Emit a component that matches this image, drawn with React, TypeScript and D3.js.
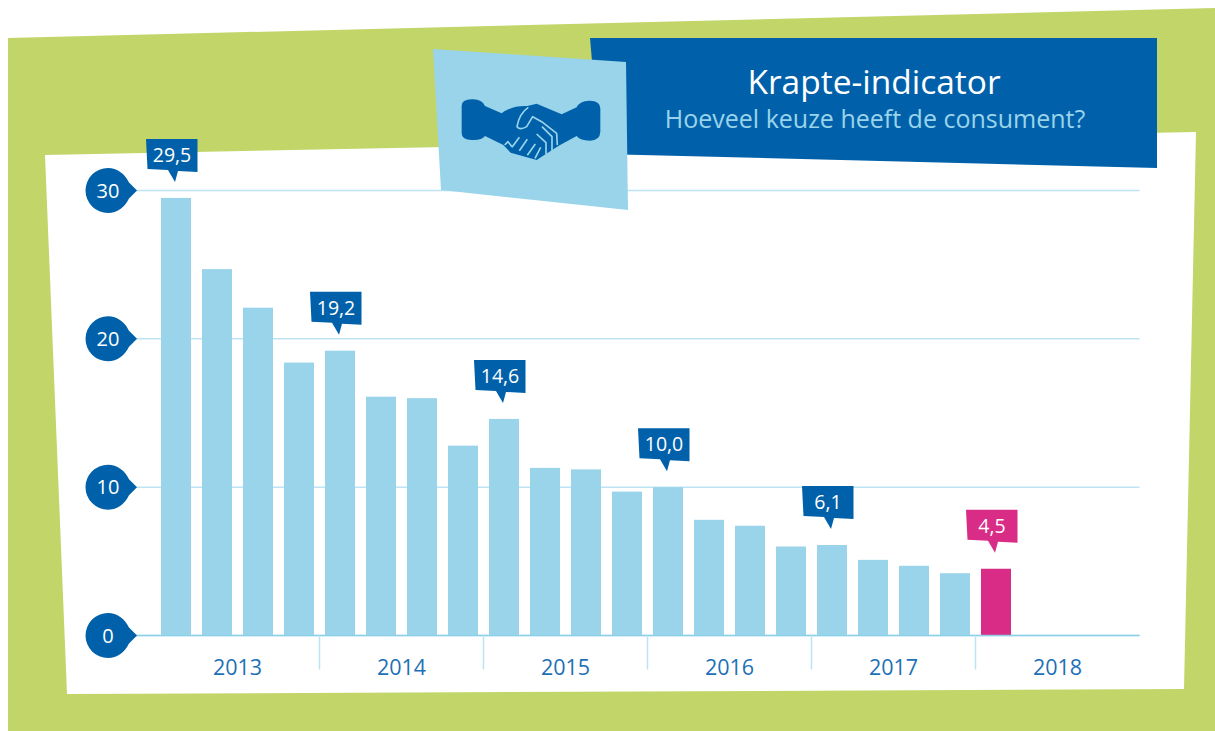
import React, { useEffect, useRef } from 'react';
import * as d3 from 'd3';

const years = ['2013', '2014', '2015', '2016', '2017', '2018'];
const quarters = [
  '13-1', '13-2', '13-3', '13-4',
  '14-1', '14-2', '14-3', '14-4',
  '15-1', '15-2', '15-3', '15-4',
  '16-1', '16-2', '16-3', '16-4',
  '17-1', '17-2', '17-3', '17-4',
  '18-1',
];
const values = [
  29.5, 24.7, 22.1, 18.4,
  19.2, 16.1, 16.0, 12.8,
  14.6, 11.3, 11.2, 9.7,
  10.0, 7.8, 7.4, 6.0,
  6.1, 5.1, 4.7, 4.2,
  4.5,
];
const yTicks = [0, 10, 20, 30];
const labelled = ['13-1', '14-1', '15-1', '16-1', '17-1', '18-1'];

const GREEN = '#c1d568';
const BLUE = '#0061aa';
const LIGHT = '#9ad4ea';
const GRID = '#bde4f4';
const PINK = '#d82c86';
const FONT = '"Open Sans", sans-serif';

const App = () => {
  const ref = useRef<SVGSVGElement>(null);

  useEffect(() => {
    const svg = d3.select(ref.current);
    svg.selectAll('*').remove();

    const poly = (pts: number[][], fill: string) =>
      svg.append('polygon').attr('points', pts.join(' ')).attr('fill', fill);

    // Background sheets
    poly([[8, 38], [1215, 8], [1215, 731], [8, 731]], GREEN);
    poly([[45, 155], [1196, 132], [1184, 689], [67, 694]], '#fff');
    poly([[590, 38], [1157, 38], [1157, 168], [600, 154]], BLUE);

    const x = d3.scaleBand()
      .domain(quarters)
      .range([155.5, 1016.5])
      .paddingInner(11 / 41)
      .paddingOuter(5.5 / 41);
    const xYear = d3.scaleBand().domain(years).range([155.5, 1139.5]);
    const y = d3.scaleLinear().domain([0, 30]).range([635.5, 190.5]);

    // Gridlines
    svg.append('g')
      .selectAll('line')
      .data(yTicks)
      .enter().append('line')
      .attr('x1', 130)
      .attr('x2', 1139.5)
      .attr('y1', d => y(d))
      .attr('y2', d => y(d))
      .attr('stroke', GRID)
      .attr('stroke-width', 1.5);

    // Icon sheet
    poly([[433, 49], [626, 62], [628, 210], [441, 190]], LIGHT);

    const hand = svg.append('g').attr('transform', 'translate(420,30) scale(0.3333)');
    hand.append('path')
      .attr('d', 'M125 228 Q125 208 155 208 Q185 206 195 228 L245 250 Q275 226 322 228 L350 221 L425 253 L470 232 Q480 211 510 212 Q540 212 541 235 L541 305 Q540 331 510 332 Q480 332 470 318 L415 348 L350 390 L272 368 L250 345 L195 318 Q185 332 155 330 Q125 330 125 310 Z')
      .attr('fill', BLUE);
    hand.append('path')
      .attr('d', 'M325 232 Q298 250 291 290 Q300 302 320 290 L338 260 L365 275 L410 310 L412 345 M350 312 L378 338 L378 372 M366 290 L396 320 L396 362 M254 345 L264 335 L276 350 M276 352 L298 322 M298 362 L322 328 M322 376 L346 342 M345 385 L362 352')
      .attr('fill', 'none')
      .attr('stroke', LIGHT)
      .attr('stroke-width', 5)
      .attr('stroke-linejoin', 'round');

    // Bars
    svg.append('g')
      .selectAll('rect')
      .data(quarters)
      .enter().append('rect')
      .attr('x', d => x(d))
      .attr('y', (d, i) => y(values[i]))
      .attr('width', x.bandwidth())
      .attr('height', (d, i) => y(0) - y(values[i]))
      .attr('fill', d => (d === '18-1' ? PINK : LIGHT));

    // Baseline on top of the bars
    svg.append('line')
      .attr('x1', 130).attr('x2', 1139.5)
      .attr('y1', y(0)).attr('y2', y(0))
      .attr('stroke', '#8ecfe8').attr('stroke-width', 1.5);

    // Year separators and labels
    svg.append('g')
      .selectAll('line')
      .data(years.slice(1))
      .enter().append('line')
      .attr('x1', d => xYear(d))
      .attr('x2', d => xYear(d))
      .attr('y1', y(0))
      .attr('y2', y(0) + 34)
      .attr('stroke', GRID)
      .attr('stroke-width', 1.5);

    svg.append('g')
      .selectAll('text')
      .data(years)
      .enter().append('text')
      .attr('x', d => xYear(d) + xYear.bandwidth() / 2)
      .attr('y', y(0) + 39)
      .attr('text-anchor', 'middle')
      .attr('font-size', 21.5)
      .attr('fill', '#1d70b5')
      .text(d => d);

    // Round value axis markers
    const ticks = svg.append('g')
      .selectAll('g')
      .data(yTicks)
      .enter().append('g')
      .attr('transform', d => `translate(108,${y(d)})`);
    ticks.append('path')
      .attr('d', 'M0 -22.5 A22.5 22.5 0 1 0 0 22.5 Q14 22 21 8 L29 0 L21 -8 Q14 -22 0 -22.5 Z')
      .attr('fill', BLUE);
    ticks.append('text')
      .attr('text-anchor', 'middle')
      .attr('y', 7)
      .attr('font-size', 20)
      .attr('fill', '#fff')
      .text(d => d);

    // Callouts above the first bar of each year
    const callouts = svg.append('g')
      .selectAll('g')
      .data(labelled)
      .enter().append('g')
      .attr('transform', d => `translate(${x(d) + x.bandwidth() / 2},${y(values[quarters.indexOf(d)]) - 16})`);
    callouts.append('polygon')
      .attr('points', '-30,-43 21.5,-43 21.5,-10 2,-11 -1,0 -8,-12 -28.5,-13')
      .attr('fill', d => (d === '18-1' ? PINK : BLUE));
    callouts.append('text')
      .attr('x', -4)
      .attr('y', -20)
      .attr('text-anchor', 'middle')
      .attr('font-size', 19.5)
      .attr('fill', '#fff')
      .text(d => d3.format('.1f')(values[quarters.indexOf(d)]).replace('.', ','));

    // Title
    svg.append('text')
      .attr('x', 874).attr('y', 94)
      .attr('text-anchor', 'middle')
      .attr('font-size', 33.5)
      .attr('fill', '#fff')
      .text('Krapte-indicator');
    svg.append('text')
      .attr('x', 875).attr('y', 128)
      .attr('text-anchor', 'middle')
      .attr('font-size', 25)
      .attr('fill', LIGHT)
      .text('Hoeveel keuze heeft de consument?');
  }, []);

  return (
    <svg
      ref={ref}
      width="1215"
      height="731"
      fontFamily={FONT}
      style={{ position: 'fixed', left: 0, top: 0, background: '#fff' }}
    />
  );
};

export default App;
